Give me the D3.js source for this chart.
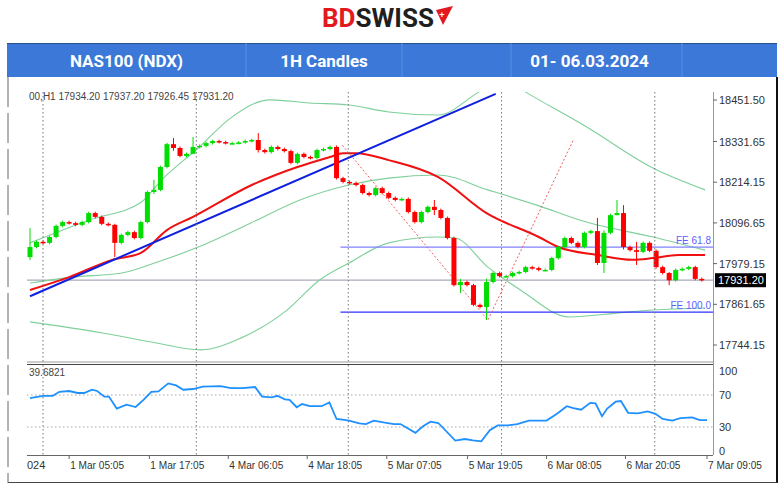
<!DOCTYPE html>
<html>
<head>
<meta charset="utf-8">
<script src="https://cdn.jsdelivr.net/npm/d3@7"></script>
<style>
  body { margin: 0; background: #fff; }
  svg { display: block; font-family: "Liberation Sans", Arial, sans-serif; }
</style>
</head>
<body>
<svg id="chart" width="780" height="487"></svg>
<script>
// NAS100 hourly closes, 1 - 7 Mar 2024 (one per bar)
var closes = [18027, 18042, 18039, 18056, 18088, 18099, 18096, 18091, 18099, 18125,
  18114, 18094, 18091, 18039, 18062, 18070, 18053, 18099, 18186, 18192,
  18258, 18324, 18313, 18290, 18296, 18316, 18319, 18327, 18333, 18330,
  18327, 18327, 18329, 18333, 18336, 18307, 18301, 18316, 18310, 18304,
  18270, 18296, 18287, 18284, 18307, 18310, 18316, 18226, 18215, 18212,
  18206, 18183, 18177, 18197, 18183, 18169, 18163, 18166, 18128, 18099,
  18128, 18143, 18134, 18111, 18053, 17917, 17926, 17917, 17860, 17854,
  17926, 17952, 17943, 17943, 17952, 17955, 17969, 17966, 17961, 17961,
  17995, 18027, 18053, 18039, 18027, 18068, 18073, 17981, 18068, 18119,
  18125, 18027, 18018, 18013, 18039, 18016, 17969, 17952, 17931, 17961,
  17964, 17969, 17935, 17931.2];
var firstOpen = 17998;
// bars with visible wicks: [bar, high, low]
var wicks = [[0, 18082, 17989], [13, 18094, 17998], [19, 18221, 18180], [22, 18342, 18305],
  [25, 18345, 18310], [35, 18356, 18300], [62, 18163, 18119], [66, 17935, 17894],
  [70, 17936, 17816], [87, 18111, 17975], [88, 18075, 17952], [90, 18163, 18119],
  [91, 18148, 18020], [93, 18042, 17975], [98, 17955, 17917]];

// moving average (red)
var maBars = [0, 6, 12.6, 17, 21, 25, 34, 41, 46, 48, 50, 55, 62.6, 70, 78, 81, 87, 92.4, 95.5, 99.4, 103.5];
var maValues = [17903, 17940, 17990, 18010, 18076, 18114, 18206, 18258, 18287, 18298, 18298, 18278, 18229, 18125, 18056, 18027, 18004, 17990, 17995, 18004, 18004];

// Bollinger bands (green)
var upperBars = [0, 9.1, 17.1, 20.2, 25.8, 30.8, 36.8, 42.8, 48.9, 55, 62.6, 68.6, 72.4, 76.2, 85.3, 95.5, 103.5];
var upperValues = [18039, 18105, 18157, 18221, 18313, 18400, 18452, 18443, 18437, 18417, 18408, 18472, 18515, 18472, 18374, 18255, 18192];
var midBars = [0, 6.5, 14.1, 19.1, 25.8, 33.8, 41.4, 48.9, 55, 62.6, 70.2, 77.7, 85.3, 95.5, 103.5];
var midValues = [17923, 17940, 17952, 17981, 18027, 18096, 18163, 18206, 18226, 18235, 18192, 18148, 18099, 18056, 18018];
var lowerBars = [0, 11.1, 18.6, 26.2, 32.3, 39.4, 44.4, 48.9, 55, 62.6, 65.2, 70.2, 75.2, 82.7, 90.3, 95.5, 103.5];
var lowerValues = [17811, 17779, 17753, 17730, 17764, 17845, 17932, 17981, 18039, 18056, 18053, 17969, 17903, 17825, 17837, 17845, 17851];

// trend line (blue) and Fibonacci expansion
var trendBars = [0, 71.4];
var trendValues = [17885, 18469];
var fiboBars = [47.9, 70.2, 83.3];
var fiboValues = [18321, 17816, 18336];
var feLevels = [{label: "FE 61.8", value: 18027}, {label: "FE 100.0", value: 17839}];
var feStartBar = 47.6;
var lastPrice = 17931.20;

// RSI panel
var rsiBars = [0, 2, 3.5, 4.5, 6, 7.3, 8.3, 9.5, 10.3, 11.4, 12.1, 13.3, 14.8, 16.2, 17.4, 18.6, 19.7, 21.2, 22.4, 23.5,
  25, 26.5, 29.2, 30.8, 32.6, 34.5, 35.6, 37.1, 37.9, 39.1, 39.8, 40.9, 41.7, 42.9, 44.7, 45.9, 47, 48.2, 48.9, 50.5,
  51.5, 52.7, 54.2, 55.8, 56.8, 59.1, 60.2, 61.4, 62.6, 65.2, 66.7, 67.9, 69.2, 70.5, 71.7, 73.2, 74.7, 76.5, 77.7, 79.2,
  80.8, 82.3, 83.3, 84.5, 85.9, 86.7, 87.7, 88.5, 89.8, 90.6, 91.7, 93.2, 94.7, 95.9, 97, 98.5, 99.7, 101.5, 102.7, 103.8];
var rsiValues = [66, 69, 69, 74, 75, 72.5, 72.5, 76.6, 75, 68, 68, 53, 58, 55, 64, 74, 74.5, 84.5, 82, 76.6,
  77.5, 80.5, 81, 78.7, 78.7, 80, 68, 67, 69, 64.6, 64, 54.7, 58.7, 56, 56, 60.7, 40, 39, 38, 34.5,
  33.7, 38, 35.7, 33.7, 33.7, 22.7, 30.5, 36.6, 35, 13, 15, 13.4, 12, 26, 32, 32, 33.7, 38, 38, 38,
  46.5, 56, 53.7, 51.6, 60.2, 59.5, 43.5, 53, 61.6, 62.5, 47.7, 47, 49.5, 46.5, 40, 38, 41, 42, 38.7, 38.7];
var rsiTicks = [100, 70, 30, 0];
var rsiLevels = [70, 30];

var priceTicks = [18451.50, 18331.65, 18214.15, 18096.65, 17979.15, 17861.65, 17744.15];
var timeLabels = [{bar: 6, text: "1 Mar 05:05"}, {bar: 18.3, text: "1 Mar 17:05"}, {bar: 30.4, text: "4 Mar 06:05"},
  {bar: 42.5, text: "4 Mar 18:05"}, {bar: 54.7, text: "5 Mar 07:05"}, {bar: 67.1, text: "5 Mar 19:05"},
  {bar: 79.2, text: "6 Mar 08:05"}, {bar: 91.3, text: "6 Mar 20:05"}, {bar: 103.8, text: "7 Mar 09:05"}];
var gridBars = [2, 25.5, 48.8, 72.3, 95.8];
var headerCells = [{text: "NAS100 (NDX)", x0: 7, x1: 246}, {text: "1H Candles", x0: 246, x1: 402},
  {text: "01- 06.03.2024", x0: 402, x1: 777}];

var svg = d3.select("#chart");
var left = 27, right = 713;
var x = d3.scaleLinear().domain([0, 103.8]).range([30, right - 6]);
var y = d3.scaleLinear().domain([17744.15, 18451.50]).range([345, 100]);
var yR = d3.scaleLinear().domain([0, 100]).range([451, 371]);

// logo
var logo = svg.append("text").attr("x", 322).attr("y", 27)
  .attr("font-family", "Roboto, sans-serif").attr("font-weight", "bold").attr("font-size", 25)
  .attr("textLength", 112).attr("lengthAdjust", "spacingAndGlyphs");
logo.append("tspan").attr("fill", "#e3191f").text("BD");
logo.append("tspan").attr("fill", "#1f1f1f").text("SWISS");
svg.append("path").attr("d", "M436,10 L453,6 L443,25 Z").attr("fill", "#e3191f");
svg.append("text").attr("x", 442).attr("y", 18).attr("fill", "#fff").attr("font-size", 9)
  .attr("font-weight", "bold").attr("text-anchor", "middle").text("+");

// header bar
svg.append("rect").attr("x", 7).attr("y", 43).attr("width", 770).attr("height", 34).attr("fill", "#3b78d8");
svg.append("line").attr("x1", 7).attr("x2", 777).attr("y1", 43.5).attr("y2", 43.5).attr("stroke", "#2a4f8a");
svg.selectAll(".hdiv").data([246, 402, 511, 682]).enter().append("line")
  .attr("x1", function(d) { return d; }).attr("x2", function(d) { return d; })
  .attr("y1", 43).attr("y2", 77).attr("stroke", "#5b8fe0");
svg.selectAll(".htxt").data(headerCells).enter().append("text")
  .attr("x", function(d) { return (d.x0 + d.x1) / 2; }).attr("y", 67)
  .attr("text-anchor", "middle").attr("fill", "#fff").attr("font-family", "Roboto, sans-serif")
  .attr("font-weight", "bold").attr("font-size", 17).text(function(d) { return d.text; });

// frame
svg.append("line").attr("x1", 777).attr("x2", 777).attr("y1", 77).attr("y2", 483).attr("stroke", "#111").attr("stroke-width", 2);
svg.append("line").attr("x1", 8).attr("x2", 777).attr("y1", 482.5).attr("y2", 482.5).attr("stroke", "#444");
svg.append("line").attr("x1", 8).attr("x2", 8).attr("y1", 77).attr("y2", 483).attr("stroke", "#666")
  .attr("stroke-dasharray", "30,6");

var clipMain = svg.append("clipPath").attr("id", "clipMain").append("rect")
  .attr("x", left).attr("y", 92).attr("width", right - left).attr("height", 270);
var main = svg.append("g").attr("clip-path", "url(#clipMain)");

// vertical grid
[[92, 362], [365, 455]].forEach(function(r) {
  svg.selectAll(null).data(gridBars).enter().append("line")
    .attr("x1", function(d) { return x(d); }).attr("x2", function(d) { return x(d); })
    .attr("y1", r[0]).attr("y2", r[1]).attr("stroke", "#777").attr("stroke-dasharray", "1.5,2.5");
});

// last price line
main.append("line").attr("x1", left).attr("x2", right).attr("y1", y(lastPrice)).attr("y2", y(lastPrice))
  .attr("stroke", "#aab").attr("stroke-width", 1.2);

function pairLine(bars, vals, sc) {
  return d3.line().curve(d3.curveMonotoneX)
    .x(function(d, i) { return x(bars[i]); }).y(function(d) { return sc(d); })(vals);
}
[[upperBars, upperValues], [midBars, midValues], [lowerBars, lowerValues]].forEach(function(b) {
  main.append("path").attr("d", pairLine(b[0], b[1], y)).attr("fill", "none")
    .attr("stroke", "#7fcf9a").attr("stroke-width", 1.1);
});

// FE levels
main.selectAll(".fe").data(feLevels).enter().append("line")
  .attr("x1", x(feStartBar)).attr("x2", right)
  .attr("y1", function(d) { return y(d.value); }).attr("y2", function(d) { return y(d.value); })
  .attr("stroke", function(d, i) { return i ? "#3030ff" : "#8080ff"; }).attr("stroke-width", 1.2);
svg.selectAll(".fet").data(feLevels).enter().append("text")
  .attr("x", right - 2).attr("y", function(d) { return y(d.value) - 3; }).attr("text-anchor", "end")
  .attr("fill", "#6060ff").attr("font-size", 10).text(function(d) { return d.label; });

// fibo dotted path
main.append("path").attr("d", d3.line().x(function(d, i) { return x(fiboBars[i]); }).y(function(d) { return y(d); })(fiboValues))
  .attr("fill", "none").attr("stroke", "#f06060").attr("stroke-dasharray", "2,2");

main.append("path").attr("d", pairLine(maBars, maValues, y)).attr("fill", "none")
  .attr("stroke", "#f01010").attr("stroke-width", 2);
main.append("path").attr("d", d3.line().x(function(d, i) { return x(trendBars[i]); }).y(function(d) { return y(d); })(trendValues))
  .attr("fill", "none").attr("stroke", "#1020e0").attr("stroke-width", 2);

// candles
var wickMap = {};
wicks.forEach(function(w) { wickMap[w[0]] = w; });
var candles = closes.map(function(c, i) {
  var o = i ? closes[i - 1] : firstOpen;
  var w = wickMap[i];
  var hi = w ? w[1] : Math.max(o, c) + 4, lo = w ? w[2] : Math.min(o, c) - 4;
  return {i: i, o: o, c: c, h: hi, l: lo};
});
var cg = main.selectAll(".candle").data(candles).enter().append("g");
cg.append("line").attr("x1", function(d) { return x(d.i); }).attr("x2", function(d) { return x(d.i); })
  .attr("y1", function(d) { return y(d.h); }).attr("y2", function(d) { return y(d.l); })
  .attr("stroke", function(d) { return d.c >= d.o ? "#00dd00" : "#ff0000"; });
cg.append("rect").attr("x", function(d) { return x(d.i) - 2.5; }).attr("width", 5)
  .attr("y", function(d) { return y(Math.max(d.o, d.c)); })
  .attr("height", function(d) { return Math.max(1.5, Math.abs(y(d.o) - y(d.c))); })
  .attr("fill", function(d) { return d.c >= d.o ? "#00dd00" : "#ff0000"; });

// price axis
svg.append("line").attr("x1", right + 0.5).attr("x2", right + 0.5).attr("y1", 92).attr("y2", 455).attr("stroke", "#999");
svg.selectAll(".pt").data(priceTicks).enter().append("text")
  .attr("x", 719).attr("y", function(d) { return y(d) + 4; }).attr("font-size", 11).attr("fill", "#333")
  .text(function(d) { return d.toFixed(2); });
svg.selectAll(".ptk").data(priceTicks).enter().append("line")
  .attr("x1", right).attr("x2", right + 4).attr("y1", function(d) { return y(d); }).attr("y2", function(d) { return y(d); })
  .attr("stroke", "#666");
svg.append("rect").attr("x", 715).attr("y", y(lastPrice) - 7).attr("width", 51).attr("height", 14).attr("fill", "#000");
svg.append("text").attr("x", 718).attr("y", y(lastPrice) + 4).attr("font-size", 11).attr("fill", "#fff").text(lastPrice.toFixed(2));

svg.append("text").attr("x", 29).attr("y", 100).attr("font-size", 10).attr("fill", "#444")
  .text("00,H1  17934.20 17937.20 17926.45 17931.20");

// panel separator
svg.append("line").attr("x1", left).attr("x2", right).attr("y1", 362).attr("y2", 362).attr("stroke", "#999");
svg.append("line").attr("x1", left).attr("x2", right).attr("y1", 364.5).attr("y2", 364.5).attr("stroke", "#444");

// RSI
svg.selectAll(".rl").data(rsiLevels).enter().append("line")
  .attr("x1", left).attr("x2", right).attr("y1", function(d) { return yR(d); }).attr("y2", function(d) { return yR(d); })
  .attr("stroke", "#aaa").attr("stroke-dasharray", "1.5,2.5");
svg.append("path").attr("d", d3.line().x(function(d, i) { return x(rsiBars[i]); }).y(function(d) { return yR(d); })(rsiValues))
  .attr("fill", "none").attr("stroke", "#1e90ff").attr("stroke-width", 1.8);
svg.selectAll(".rt").data(rsiTicks).enter().append("text")
  .attr("x", 719).attr("y", function(d) { return yR(d) + 4; }).attr("font-size", 11).attr("fill", "#333")
  .text(function(d) { return d; });
svg.append("text").attr("x", 29).attr("y", 376).attr("font-size", 10).attr("fill", "#444").text("39.6821");

// time axis
svg.append("line").attr("x1", left).attr("x2", right).attr("y1", 455.5).attr("y2", 455.5).attr("stroke", "#666");
svg.append("text").attr("x", 27).attr("y", 469).attr("font-size", 11).attr("fill", "#333").text("024");
svg.selectAll(".tl").data(timeLabels).enter().append("text")
  .attr("x", function(d) { return x(d.bar) + 1; }).attr("y", 469).attr("font-size", 11).attr("fill", "#333")
  .attr("textLength", 54).attr("lengthAdjust", "spacingAndGlyphs")
  .text(function(d) { return d.text; });
svg.selectAll(".tk").data(timeLabels).enter().append("line")
  .attr("x1", function(d) { return x(d.bar); }).attr("x2", function(d) { return x(d.bar); })
  .attr("y1", 455).attr("y2", 459).attr("stroke", "#666");
</script>
</body>
</html>
